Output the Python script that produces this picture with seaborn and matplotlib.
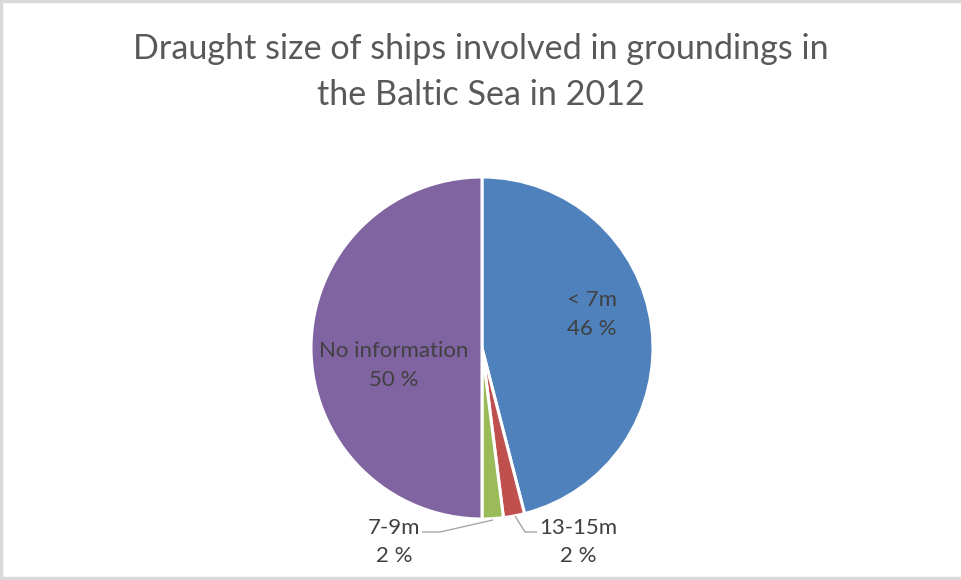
import matplotlib
matplotlib.use("Agg")
import matplotlib.pyplot as plt
from matplotlib.lines import Line2D
import numpy as np
import seaborn as sns

# Draught classes and their share of groundings (%)
categories = ["< 7m", "13-15m", "7-9m", "No information"]
shares = [46, 2, 2, 50]
colors = ["#4F81BD", "#C0504D", "#9BBB59", "#8064A2"]
title = "Draught size of ships involved in groundings in\nthe Baltic Sea in 2012"

sns.set_theme(style="white")
plt.rcParams["font.family"] = ["Lato", "DejaVu Sans"]

W, H = 961, 580
fig = plt.figure(figsize=(W / 100, H / 100), dpi=100)
ax = fig.add_axes([0, 0, 1, 1])

cx, cy, r = 482, H - 348, 171
wedges, _ = ax.pie(
    shares,
    colors=colors,
    startangle=90,
    counterclock=False,
    center=(cx, cy),
    radius=r,
    wedgeprops=dict(edgecolor="white", linewidth=2.2),
)
ax.set_xlim(0, W)
ax.set_ylim(0, H)
ax.set_aspect("equal")
ax.axis("off")

text_color = "#404040"
label_size = 16
spacing = 1.55

# Inside labels: (angle in degrees, fraction of radius)
inside = {0: (17, 0.67), 3: (191, 0.525)}
for i, (ang, frac) in inside.items():
    a = np.deg2rad(ang)
    x = cx + frac * r * np.cos(a)
    y = cy + frac * r * np.sin(a)
    ax.text(x, y, f"{categories[i]}\n{shares[i]} %", ha="center", va="center",
            fontsize=label_size, color=text_color, linespacing=spacing)

# Outside labels with leader lines for the thin slices
leader = "#A6A6A6"
outside = {
    1: dict(text=(578, 542), line=[(515, 516), (525, 532), (537, 532)]),
    2: dict(text=(394, 542), line=[(493, 520), (440, 532), (422, 532)]),
}
for i, spec in outside.items():
    tx, ty = spec["text"]
    ax.text(tx, H - ty, f"{categories[i]}\n{shares[i]} %", ha="center", va="center",
            fontsize=label_size, color=text_color, linespacing=spacing)
    xs = [p[0] for p in spec["line"]]
    ys = [H - p[1] for p in spec["line"]]
    ax.plot(xs, ys, color=leader, linewidth=1.0, solid_capstyle="butt")

fig.text(481 / W, 1 - 72 / H, title, ha="center", va="center",
         fontsize=24.6, color="#595959", linespacing=1.55)

# Light chart-area border
border = "#D9D9D9"
for xs, ys in [((0, 1), (0.998, 0.998)), ((0.001, 0.001), (0, 1)), ((0, 1), (0.003, 0.003))]:
    fig.add_artist(Line2D(xs, ys, transform=fig.transFigure, color=border, linewidth=2.5))

fig.savefig("out.png", dpi=100, facecolor="white")
